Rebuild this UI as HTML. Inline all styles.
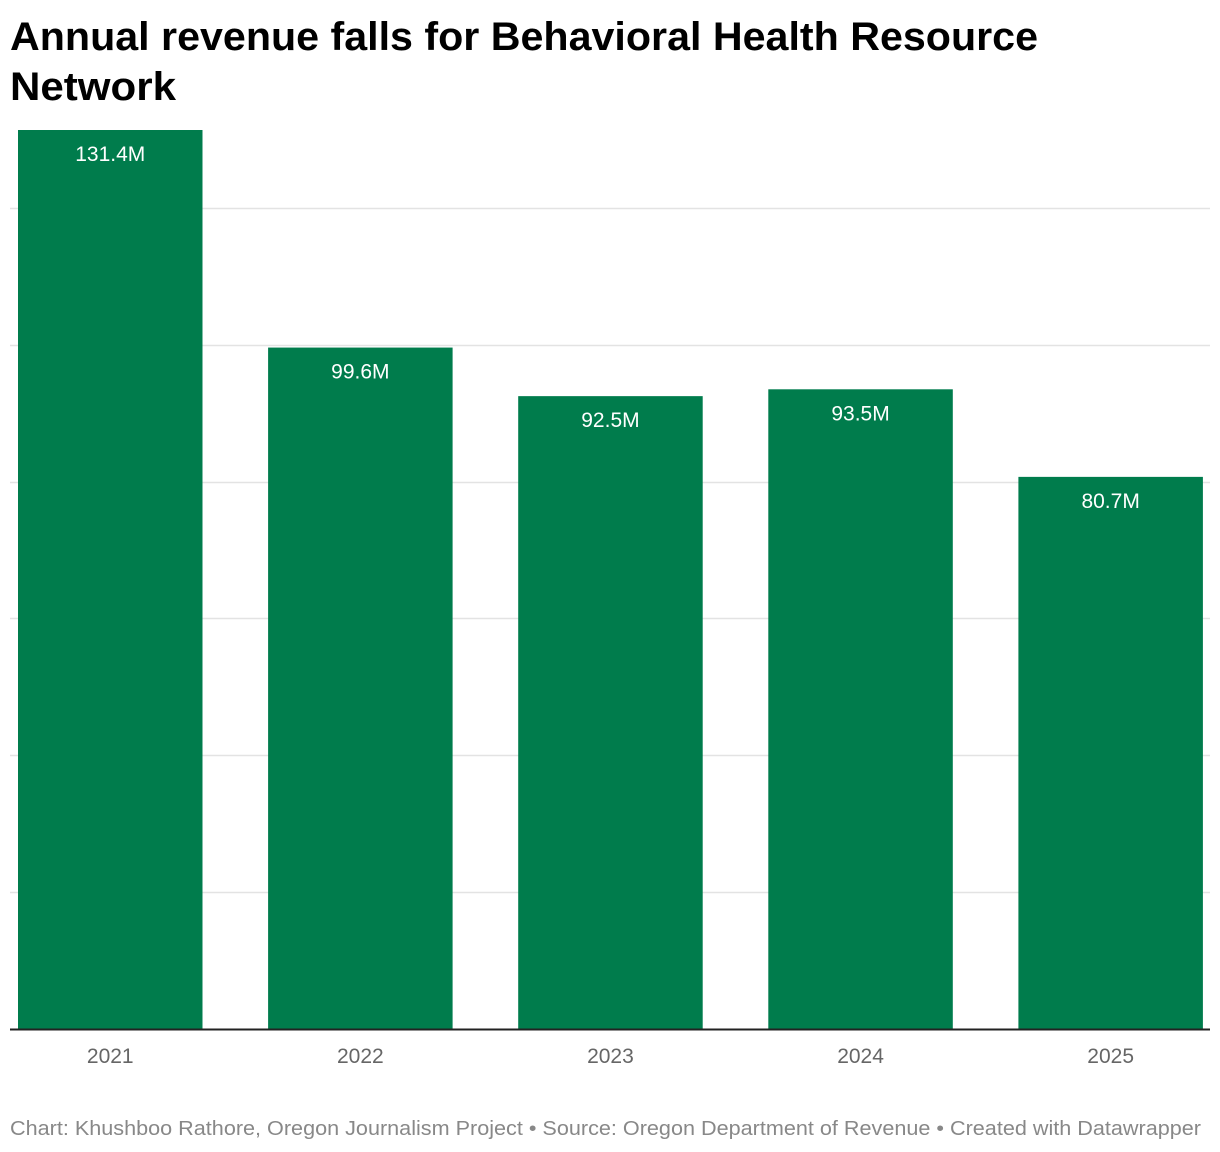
<!DOCTYPE html>
<html><head><meta charset="utf-8"><style>
html,body{margin:0;padding:0;background:#fff;}
svg{display:block;font-family:"Liberation Sans",Arial,sans-serif;}
</style></head><body>
<svg id="chart" width="1220" height="1152" viewBox="0 0 1220 1152">
<text x="10" y="50" font-size="40" font-weight="bold" fill="#000" textLength="1028" lengthAdjust="spacingAndGlyphs">Annual revenue falls for Behavioral Health Resource</text>
<text x="10" y="100" font-size="40" font-weight="bold" fill="#000" textLength="166" lengthAdjust="spacingAndGlyphs">Network</text>
<g id="grid"></g>
<g id="bars"></g>
<line x1="10" x2="1210" y1="1029.5" y2="1029.5" stroke="#222" stroke-width="2"/>
<text x="10" y="1135" font-size="20" fill="#888" textLength="1191" lengthAdjust="spacingAndGlyphs">Chart: Khushboo Rathore, Oregon Journalism Project • Source: Oregon Department of Revenue • Created with Datawrapper</text>
</svg>
<script>
const categories = ["2021","2022","2023","2024","2025"];
const values = [131.4, 99.6, 92.5, 93.5, 80.7];
const valueLabels = ["131.4M","99.6M","92.5M","93.5M","80.7M"];
const gridTicks = [20,40,60,80,100,120];
const NS="http://www.w3.org/2000/svg";
const baseY=1029, pxPerM=899/131.4;
function y(v){return baseY - v*pxPerM;}
function x(i){return 18 + i*250.1;}
const bw=184.5;
const grid=document.getElementById('grid');
gridTicks.forEach(t=>{
  const l=document.createElementNS(NS,'line');
  
  
  l.setAttribute('x1',10);l.setAttribute('x2',1210);
  l.setAttribute('y1',Math.round(y(t))+0.5);l.setAttribute('y2',Math.round(y(t))+0.5);
  l.setAttribute('stroke','#e3e3e3');l.setAttribute('stroke-width','1.5');
  grid.appendChild(l);
});
const bars=document.getElementById('bars');
categories.forEach((c,i)=>{
  const r=document.createElementNS(NS,'rect');
  
  
  r.setAttribute('x',x(i));r.setAttribute('width',bw);
  r.setAttribute('y',y(values[i]));r.setAttribute('height',baseY-y(values[i]));
  r.setAttribute('fill','#007c4c');
  bars.appendChild(r);
  const t=document.createElementNS(NS,'text');
  
  
  t.setAttribute('x',x(i)+bw/2);t.setAttribute('y',y(values[i])+31);
  t.setAttribute('text-anchor','middle');t.setAttribute('font-size','21');t.setAttribute('fill','#fff');
  t.textContent=valueLabels[i];
  bars.appendChild(t);
  const a=document.createElementNS(NS,'text');
  
  
  a.setAttribute('x',x(i)+bw/2);a.setAttribute('y',1063);
  a.setAttribute('text-anchor','middle');a.setAttribute('font-size','21');a.setAttribute('fill','#666');
  a.textContent=c;
  bars.appendChild(a);
});
</script>
</body></html>
